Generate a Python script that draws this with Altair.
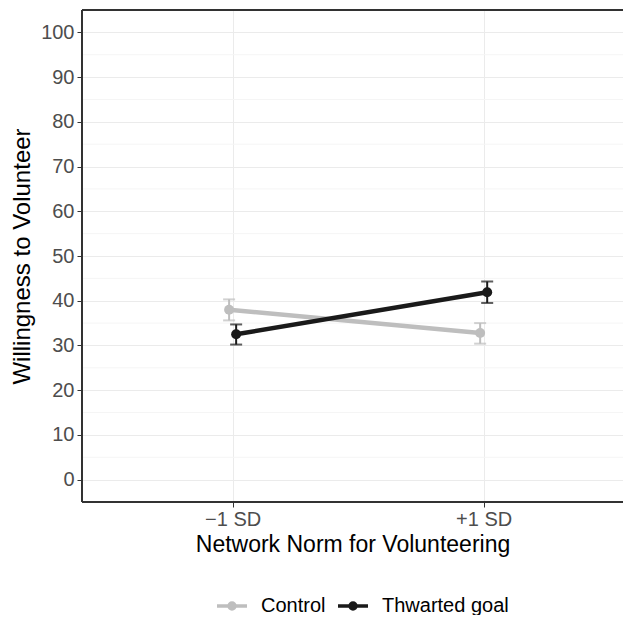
import altair as alt
import pandas as pd

groups = ["Control", "Control", "Thwarted goal", "Thwarted goal"]
norm_pos = [1, 2, 1, 2]
means = [38.0, 32.8, 32.5, 41.9]
lows = [35.6, 30.4, 30.2, 39.5]
highs = [40.3, 35.0, 34.7, 44.3]
minor_breaks = [5, 15, 25, 35, 45, 55, 65, 75, 85, 95]
group_order = ["Control", "Thwarted goal"]
group_colors = ["#BEBEBE", "#1A1A1A"]

df = pd.DataFrame({"group": groups, "pos": norm_pos, "mean": means, "lo": lows, "hi": highs})
minor_df = pd.DataFrame({"mean": minor_breaks})

FONT = "Liberation Sans"
DODGE = 0.014
X_TITLE = "Network Norm for Volunteering"
Y_TITLE = "Willingness to Volunteer"
X_MIN, X_MAX = 0.4, 2.555
Y_MIN, Y_MAX = -5, 105

x_scale = alt.Scale(domain=[X_MIN, X_MAX], nice=False, zero=False)
y_scale = alt.Scale(domain=[Y_MIN, Y_MAX], nice=False, zero=False)

x_axis = alt.Axis(values=[1, 2], labelExpr="datum.value == 1 ? '\u22121 SD' : '+1 SD'",
                  grid=True, gridColor="#EBEBEB", domain=False,
                  tickColor="#333333", tickSize=5,
                  labelFontSize=20, labelColor="#4D4D4D", labelFont=FONT, labelPadding=2,
                  titleFontSize=23, titleFont=FONT, titleFontWeight="normal",
                  titleColor="#000000", titlePadding=4)
y_axis = alt.Axis(values=list(range(0, 101, 10)), grid=True, gridColor="#EBEBEB",
                  domain=False, tickColor="#333333", tickSize=5,
                  labelFontSize=20, labelColor="#4D4D4D", labelFont=FONT, labelPadding=3,
                  titleFontSize=24, titleFont=FONT, titleFontWeight="normal",
                  titleColor="#000000", titlePadding=6)


def X(field):
    return alt.X(field, scale=x_scale, title=X_TITLE, axis=x_axis)


def Y(field):
    return alt.Y(field, scale=y_scale, title=Y_TITLE, axis=y_axis)


color = alt.Color("group:N", scale=alt.Scale(domain=group_order, range=group_colors),
                  legend=alt.Legend(title=None, orient="none", direction="horizontal",
                                    legendX=133, legendY=579,
                                    symbolType="M-1,0L1,0M-0.2,0A0.2,0.2,0,1,1,0.2,0A0.2,0.2,0,1,1,-0.2,0Z",
                                    symbolSize=900, symbolStrokeWidth=3.5,
                                    labelFontSize=20, labelFont=FONT, labelColor="#000000",
                                    labelOffset=12, columnPadding=5))
color_nl = alt.Color("group:N", scale=alt.Scale(domain=group_order, range=group_colors), legend=None)

base = alt.Chart(df).transform_calculate(
    xd=f"datum.pos + (datum.group == 'Control' ? -{DODGE} : {DODGE})"
)

minor = alt.Chart(minor_df).mark_rule(color="#F5F5F5", strokeWidth=1).encode(y=Y("mean:Q"))

border_style = dict(color="#333333", strokeWidth=1.3)
top_border = alt.Chart(minor_df).mark_rule(**border_style).encode(
    y=alt.datum(Y_MAX, scale=y_scale, title=Y_TITLE, axis=y_axis))
bottom_border = alt.Chart(minor_df).mark_rule(**border_style).encode(
    y=alt.datum(Y_MIN, scale=y_scale, title=Y_TITLE, axis=y_axis))
left_border = alt.Chart(minor_df).mark_rule(**border_style).encode(
    x=alt.datum(X_MIN, scale=x_scale, title=X_TITLE, axis=x_axis))

lines = base.mark_line(strokeWidth=4.5).encode(x=X("xd:Q"), y=Y("mean:Q"), color=color, order="pos:Q")
err = base.mark_rule(strokeWidth=2).encode(x=X("xd:Q"), y=Y("lo:Q"), y2="hi:Q", color=color_nl)
cap_lo = base.mark_tick(orient="horizontal", thickness=2, size=12).encode(
    x=X("xd:Q"), y=Y("lo:Q"), color=color_nl)
cap_hi = base.mark_tick(orient="horizontal", thickness=2, size=12).encode(
    x=X("xd:Q"), y=Y("hi:Q"), color=color_nl)
pts = base.mark_point(filled=True, size=100, opacity=1).encode(
    x=X("xd:Q"), y=Y("mean:Q"), color=color_nl)


def ctrl(c):
    return c.transform_filter("datum.group == 'Control'")


def thw(c):
    return c.transform_filter("datum.group == 'Thwarted goal'")


chart = alt.layer(
    minor,
    lines,
    ctrl(err), ctrl(cap_lo), ctrl(cap_hi), ctrl(pts),
    thw(err), thw(cap_lo), thw(cap_hi), thw(pts),
    top_border, bottom_border, left_border,
).properties(
    width=541, height=492,
    autosize=alt.AutoSizeParams(type="none"),
    padding={"left": 74, "top": 2, "right": 0, "bottom": 113},
    background="white",
).configure_view(stroke=None)

chart.save("out.html", embed_options={"renderer": "svg", "actions": False})
